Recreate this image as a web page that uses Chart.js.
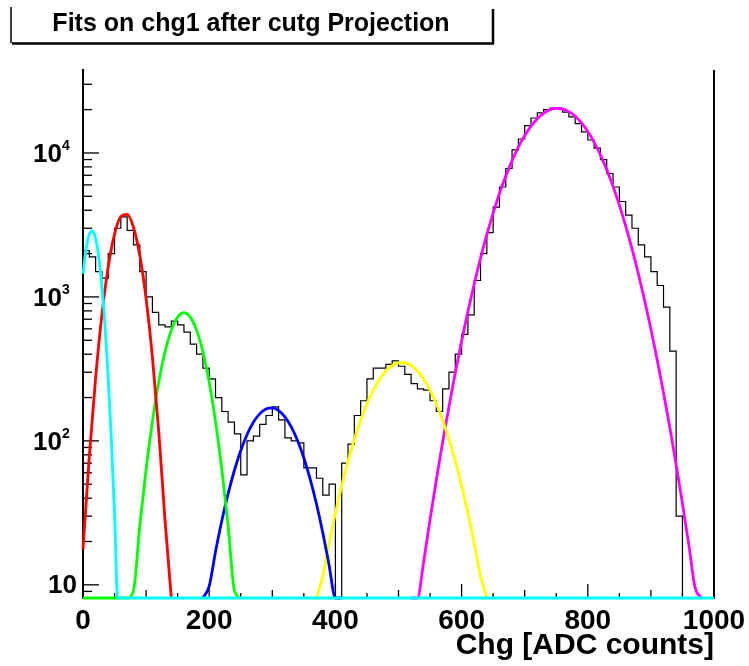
<!DOCTYPE html>
<html>
<head>
<meta charset="utf-8">
<script src="https://cdn.jsdelivr.net/npm/chart.js@4.4.1/dist/chart.umd.min.js"></script>
<style>
  html, body { margin: 0; padding: 0; background: #fff; }
</style>
</head>
<body>
<canvas id="chart" width="749" height="666"></canvas>
<script>
const FONT = '"Liberation Sans", Arial, Helvetica, sans-serif';

const titleText = "Fits on chg1 after cutg Projection";
const xTitle = "Chg [ADC counts]";
const xTicks = [0, 200, 400, 600, 800, 1000];
const yDecades = [10, 100, 1000, 10000];
const yMin = 8.1, yMax = 37700;

// histogram chg1, 100 bins of 10 ADC counts
const binWidth = 10;
const chgCounts = [
  2100, 1900, 1500, 1350, 2000, 3000, 3600, 2900, 2300, 1500,
  1000, 780, 640, 620, 680, 640, 570, 470, 400, 320,
  270, 200, 160, 135, 112, 58, 100, 108, 130, 150,
  172, 140, 105, 100, 97, 65, 65, 55, 42, 50,
  0, 70, 95, 150, 190, 270, 320, 320, 340, 360,
  330, 290, 250, 230, 225, 190, 160, 230, 300, 400,
  550, 750, 1300, 2000, 2800, 4200, 5800, 7800, 10500, 12500,
  15500, 17500, 19000, 20000, 20500, 20500, 19200, 17800, 16000, 14000,
  12300, 10800, 9000, 7200, 5800, 4600, 3700, 3000, 2300, 1900,
  1500, 1200, 850, 420, 30, 0, 0, 0, 0, 0
];

// gaussian fits
const cyanX = [0, 5, 10, 15, 20, 25, 30, 35, 40, 45, 50, 55, 60, 1000];
const cyanY = [1450, 2170, 2730, 2870, 2540, 1890, 1180, 617, 270, 100, 31, 8, 0, 0];

const redX = [0, 10, 20, 30, 40, 50, 60, 70, 80, 90, 100, 110, 120, 130, 140];
const redY = [17.6, 78, 274, 753, 1618, 2729, 3614, 3750, 3048, 1945, 972, 381, 117, 28, 5.3];

const greenX = [0, 70, 80, 90, 100, 110, 120, 130, 140, 150, 160, 170, 180, 190, 200, 210, 220, 230, 240, 250];
const greenY = [0, 2.8, 9.1, 25.7, 63.5, 136, 255, 415, 588, 724, 776, 724, 588, 415, 255, 136, 63.5, 25.7, 9.1, 2.8];

const blueX = [190, 200, 210, 220, 230, 240, 250, 260, 270, 280, 290, 300, 310, 320, 330, 340, 350, 360, 370, 380, 390, 400, 410];
const blueY = [5.3, 9.8, 17, 27.9, 43, 62.5, 85.7, 110.6, 134.6, 154, 166.7, 169.6, 162.5, 147, 125, 100.5, 76, 54.2, 36.4, 23, 13.7, 7.7, 4.1];

const yellowX = [370, 380, 390, 400, 410, 420, 430, 440, 450, 460, 470, 480, 490, 500, 510, 520, 530, 540, 550, 560, 570, 580, 590, 600, 610, 620, 630, 640];
const yellowY = [6.5, 11.5, 19.4, 31.5, 48.7, 72.2, 102.6, 139, 181, 225, 268, 306, 334, 349, 349, 334, 306, 268, 225, 181, 139, 102.6, 72.2, 48.7, 31.5, 19.4, 11.5, 6.5];

const magentaX = [520, 530, 540, 550, 560, 570, 580, 590, 600, 610, 620, 630, 640, 650, 660, 670, 680, 690, 700, 710, 720, 730, 740, 750,
  760, 770, 780, 790, 800, 810, 820, 830, 840, 850, 860, 870, 880, 890, 900, 910, 920, 930, 940, 950, 960, 970, 980];
const magentaY = [3.5, 7.2, 14.6, 28.4, 53.7, 98, 173, 297, 493, 792, 1230, 1854, 2704, 3819, 5224, 6907, 8851, 10990, 13210, 15380, 17300, 18880, 19950, 20400,
  20200, 19370, 17990, 16180, 14090, 11880, 9680, 7660, 5860, 4345, 3119, 2163, 1455, 948, 598, 365, 216, 124, 68.5, 36.8, 19.1, 9.6, 4.7];

// like ROOT, anything under the axis floor is drawn on the floor
const floorY = v => Math.max(v, yMin);

function fitSet(label, xs, ys, color) {
  return {
    label,
    data: xs.map((x, i) => ({ x, y: floorY(ys[i]) })),
    borderColor: color,
    borderWidth: 2.8,
    pointRadius: 0,
    cubicInterpolationMode: "monotone",
    fill: false,
    clip: { left: 3, right: 3, top: 0, bottom: 4 },
  };
}

const histData = chgCounts.map((v, i) => ({ x: i * binWidth, y: floorY(v) }));
histData.push({ x: chgCounts.length * binWidth, y: floorY(chgCounts[chgCounts.length - 1]) });

const rootFrame = {
  id: "rootFrame",
  beforeDatasetsDraw(chart) {
    const { ctx, chartArea: a, scales: { x, y } } = chart;
    ctx.save();
    ctx.strokeStyle = "#000";
    ctx.lineWidth = 2;
    ctx.beginPath();
    ctx.moveTo(a.right, a.top);
    ctx.lineTo(a.right, a.bottom);
    ctx.stroke();

    ctx.lineWidth = 1.3;
    // x ticks, pointing up into the frame
    for (let v = 0; v <= 1000; v += 50) {
      const px = x.getPixelForValue(v);
      const len = v % 200 === 0 ? 14 : (v % 100 === 0 ? 8 : 5);
      ctx.beginPath();
      ctx.moveTo(px, a.bottom);
      ctx.lineTo(px, a.bottom - len);
      ctx.stroke();
    }
    // y ticks, log decades
    for (let d = 1; d <= 10000; d *= 10) {
      for (let m = 1; m <= 9; m++) {
        const v = m * d;
        if (v < yMin || v > yMax) continue;
        const py = y.getPixelForValue(v);
        ctx.beginPath();
        ctx.moveTo(a.left, py);
        ctx.lineTo(a.left + (m === 1 ? 16 : 9), py);
        ctx.stroke();
      }
    }
    ctx.restore();
  },
  afterDraw(chart) {
    const { ctx, scales: { y } } = chart;
    ctx.save();
    ctx.fillStyle = "#000";
    ctx.textBaseline = "middle";
    yDecades.forEach(v => {
      const py = y.getPixelForValue(v);
      const e = Math.round(Math.log10(v));
      ctx.font = "bold 26px " + FONT;
      ctx.textAlign = "right";
      if (e === 1) {
        ctx.fillText("10", 77, py + 1);
      } else {
        ctx.fillText("10", 62, py + 2);
        ctx.font = "bold 14px " + FONT;
        ctx.textAlign = "left";
        ctx.fillText(String(e), 62, py - 7);
      }
    });

    // title pave
    ctx.strokeStyle = "#000";
    ctx.lineWidth = 1.5;
    ctx.beginPath();
    ctx.moveTo(11, 7);
    ctx.lineTo(11, 43);
    ctx.stroke();
    ctx.lineWidth = 2.5;
    ctx.beginPath();
    ctx.moveTo(12, 43.5);
    ctx.lineTo(494, 43.5);
    ctx.moveTo(493, 9);
    ctx.lineTo(493, 44);
    ctx.stroke();
    ctx.font = "bold 25px " + FONT;
    ctx.textAlign = "center";
    ctx.textBaseline = "alphabetic";
    ctx.fillText(titleText, 251, 31);
    ctx.restore();
  }
};

new Chart(document.getElementById("chart"), {
  type: "line",
  data: {
    datasets: [
      fitSet("cyan", cyanX, cyanY, "#00ffff"),
      fitSet("red", redX, redY, "#ff0000"),
      fitSet("green", greenX, greenY, "#00ff00"),
      fitSet("blue", blueX, blueY, "#0000ff"),
      fitSet("yellow", yellowX, yellowY, "#ffff00"),
      fitSet("magenta", magentaX, magentaY, "#ff00ff"),
      {
        label: "chg1",
        data: histData,
        stepped: "before",
        borderColor: "#000",
        borderWidth: 1.2,
        pointRadius: 0,
        fill: false,
        clip: { left: 0, right: 0, top: 0, bottom: 2 },
      },
    ],
  },
  options: {
    responsive: false,
    animation: false,
    devicePixelRatio: 1,
    layout: { padding: { left: 0, right: 35, top: 70, bottom: 0 } },
    plugins: { legend: { display: false }, tooltip: { enabled: false } },
    scales: {
      x: {
        type: "linear",
        min: 0,
        max: 1000,
        afterFit: s => { s.height = 68; },
        afterBuildTicks: s => { s.ticks = xTicks.map(v => ({ value: v })); },
        grid: { display: false },
        border: { display: true, color: "#000", width: 2 },
        ticks: {
          autoSkip: false,
          maxRotation: 0,
          color: "#000",
          padding: 1,
          font: { family: FONT, size: 28, weight: "bold", lineHeight: 1 },
          callback: v => String(v),
        },
        title: {
          display: true,
          text: xTitle,
          align: "end",
          color: "#000",
          font: { family: FONT, size: 30, weight: "bold", lineHeight: 1 },
          padding: { top: 0, bottom: 5 },
        },
      },
      y: {
        type: "logarithmic",
        min: yMin,
        max: yMax,
        afterFit: s => { s.width = 83; },
        grid: { display: false },
        border: { display: true, color: "#000", width: 2 },
        ticks: { display: false },
      },
    },
  },
  plugins: [rootFrame],
});
</script>
</body>
</html>
